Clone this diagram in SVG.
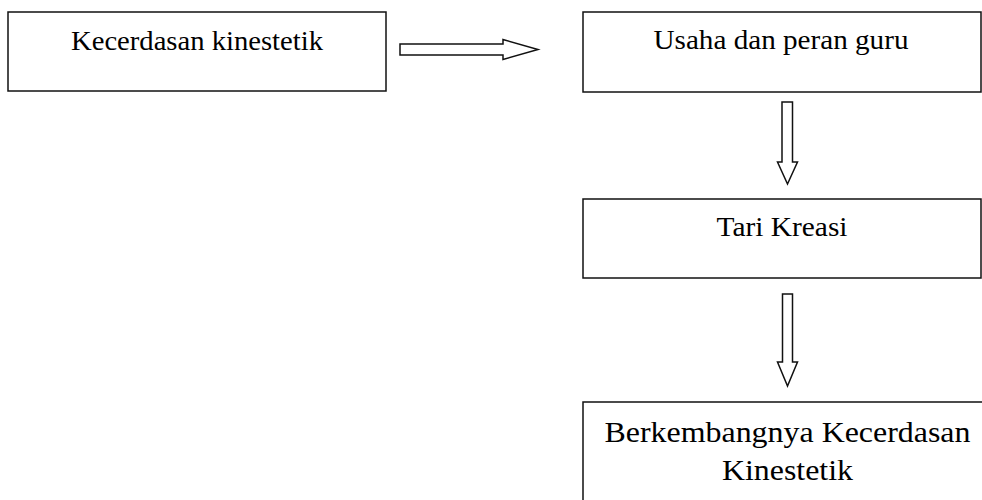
<svg xmlns="http://www.w3.org/2000/svg" width="982" height="500" viewBox="0 0 982 500">
<style>
.box{fill:#fff;stroke:#111;stroke-width:1.5}
.arrow{fill:#fff;stroke:#111;stroke-width:1.5;stroke-linejoin:miter}
.t{font-family:"Liberation Serif","Times New Roman",serif;font-size:27px;fill:#000;text-anchor:middle}
.tb{font-family:"Liberation Serif","Times New Roman",serif;font-size:30px;fill:#000;text-anchor:middle}
</style>
<rect width="982" height="500" fill="#fff"/>
<g id="node-kecerdasan">
<rect class="box" x="8" y="12" width="378" height="79"/>
<text class="t" x="197" y="49.5" textLength="252" lengthAdjust="spacingAndGlyphs">Kecerdasan kinestetik</text>
</g>
<g id="node-usaha">
<rect class="box" x="583" y="12" width="398" height="80"/>
<text class="t" x="781" y="49" textLength="255" lengthAdjust="spacingAndGlyphs">Usaha dan peran guru</text>
</g>
<g id="node-tari">
<rect class="box" x="583" y="199" width="398" height="79"/>
<text class="t" x="782" y="236" textLength="131" lengthAdjust="spacingAndGlyphs">Tari Kreasi</text>
</g>
<g id="node-berkembang">
<rect class="box" x="583" y="402" width="410" height="110"/>
<text class="tb" x="787.5" y="441.5" textLength="366" lengthAdjust="spacingAndGlyphs">Berkembangnya Kecerdasan</text>
<text class="tb" x="787.5" y="480" textLength="131" lengthAdjust="spacingAndGlyphs">Kinestetik</text>
</g>
<g id="connectors">
<polygon class="arrow" points="400,44 503,44 503,39.5 538,49.5 503,59.5 503,55 400,55"/>
<polygon class="arrow" points="782,102 792.5,102 792.5,162 797.5,162 787.5,184 777.5,162 782,162"/>
<polygon class="arrow" points="782.5,294 792.5,294 792.5,362 797.5,362 787.5,386 777.5,362 782.5,362"/>
</g>
</svg>
